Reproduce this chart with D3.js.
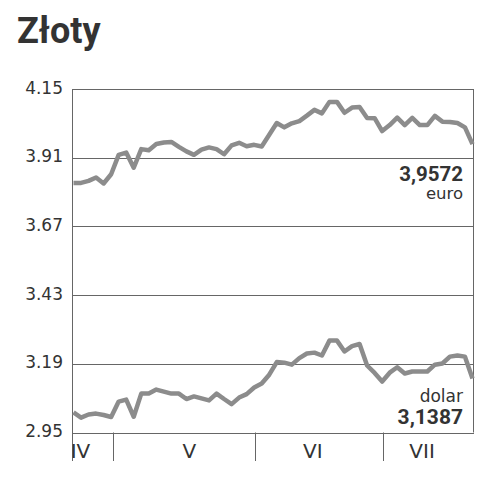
<!DOCTYPE html>
<html>
<head>
<meta charset="utf-8">
<script src="https://cdn.jsdelivr.net/npm/d3@7/dist/d3.min.js"></script>
<style>
  html, body { margin: 0; padding: 0; background: #fff; }
  svg { display: block; }
</style>
</head>
<body>
<svg id="chart" width="480" height="480"></svg>
<script>
// ---- data ----
const title = "Złoty";
const yTicks = [2.95, 3.19, 3.43, 3.67, 3.91, 4.15];
const monthLabels = ["IV", "V", "VI", "VII"];
const monthLabelPos = [0.93, 15.4, 31.8, 46.3];   // in trading-day index units
const monthBounds = [5.3, 24.1, 41.1];            // month boundaries, index units
const euro = [
  3.822, 3.822, 3.829, 3.841, 3.820, 3.852, 3.920, 3.928, 3.875, 3.940,
  3.936, 3.958, 3.963, 3.965, 3.948, 3.932, 3.920, 3.938, 3.946, 3.940,
  3.922, 3.953, 3.962, 3.950, 3.955, 3.949, 3.990, 4.031, 4.016, 4.030,
  4.038, 4.057, 4.077, 4.065, 4.105, 4.105, 4.067, 4.085, 4.087, 4.049,
  4.048, 4.003, 4.024, 4.050, 4.024, 4.049, 4.024, 4.024, 4.056, 4.036,
  4.035, 4.031, 4.016, 3.9572
];
const dolar = [
  3.020, 3.002, 3.013, 3.016, 3.011, 3.004, 3.058, 3.065, 3.005, 3.086,
  3.086, 3.100, 3.093, 3.086, 3.086, 3.067, 3.076, 3.069, 3.062, 3.086,
  3.067, 3.049, 3.072, 3.084, 3.107, 3.121, 3.152, 3.196, 3.194, 3.187,
  3.210, 3.226, 3.229, 3.219, 3.271, 3.271, 3.233, 3.252, 3.259, 3.184,
  3.158, 3.128, 3.159, 3.178, 3.156, 3.163, 3.163, 3.163, 3.187, 3.191,
  3.215, 3.219, 3.215, 3.1387
];
const euroLabel = { value: "3,9572", name: "euro" };
const dolarLabel = { value: "3,1387", name: "dolar" };

// ---- layout ----
const svg = d3.select("#chart");
const L = 72, R = 474, T = 89, B = 432.5;
const x = d3.scaleLinear().domain([0, euro.length - 1]).range([73.5, 472.5]);
const y = d3.scaleLinear().domain([2.95, 4.15]).range([B, T]);
const gridColor = "#666";
const textColor = "#333";

// title
svg.append("text")
  .attr("x", 17).attr("y", 43)
  .attr("font-family", "Roboto, sans-serif")
  .attr("font-weight", 700)
  .attr("font-size", 36)
  .attr("fill", textColor)
  .text(title);

// horizontal grid lines
svg.append("g").selectAll("line").data(yTicks).join("line")
  .attr("x1", L).attr("x2", R)
  .attr("y1", d => Math.round(y(d)) + 0.5).attr("y2", d => Math.round(y(d)) + 0.5)
  .attr("stroke", gridColor).attr("stroke-width", 1);

// y labels
svg.append("g").selectAll("text").data(yTicks).join("text")
  .attr("x", 63).attr("y", d => y(d) + 4.5)
  .attr("text-anchor", "end")
  .attr("font-family", "DejaVu Sans, sans-serif")
  .attr("font-size", 17)
  .attr("fill", textColor)
  .text(d => d.toFixed(2));

// frame verticals
svg.append("line").attr("x1", L + 0.5).attr("x2", L + 0.5).attr("y1", T).attr("y2", 461)
  .attr("stroke", gridColor).attr("stroke-width", 1);
svg.append("line").attr("x1", R - 0.5).attr("x2", R - 0.5).attr("y1", T).attr("y2", B)
  .attr("stroke", gridColor).attr("stroke-width", 1);

// month separators
svg.append("g").selectAll("line").data(monthBounds).join("line")
  .attr("x1", d => Math.round(x(d)) + 0.5).attr("x2", d => Math.round(x(d)) + 0.5)
  .attr("y1", B).attr("y2", 461)
  .attr("stroke", gridColor).attr("stroke-width", 1);

// month labels
svg.append("g").selectAll("text").data(monthLabels).join("text")
  .attr("x", (d, i) => x(monthLabelPos[i]))
  .attr("y", 458)
  .attr("text-anchor", "middle")
  .attr("font-family", "DejaVu Sans, sans-serif")
  .attr("font-size", 20)
  .attr("fill", textColor)
  .text(d => d);

// series lines
const line = d3.line().x((d, i) => x(i)).y(d => y(d));
[euro, dolar].forEach(series => {
  svg.append("path")
    .datum(series)
    .attr("d", line)
    .attr("fill", "none")
    .attr("stroke", "#8c8c8c")
    .attr("stroke-width", 4.5)
    .attr("stroke-linejoin", "round");
});

// value labels
function valueText(txt, yy, bold, size) {
  svg.append("text")
    .attr("x", 463).attr("y", yy)
    .attr("text-anchor", "end")
    .attr("font-family", bold ? "Roboto, sans-serif" : "DejaVu Sans, sans-serif")
    .attr("font-weight", bold ? 700 : 400)
    .attr("font-size", size)
    .attr("fill", textColor)
    .text(txt);
}
valueText(euroLabel.value, 180.5, true, 20.5);
valueText(euroLabel.name, 199, false, 16.5);
valueText(dolarLabel.name, 401.5, false, 17);
valueText(dolarLabel.value, 424, true, 21);
</script>
</body>
</html>
